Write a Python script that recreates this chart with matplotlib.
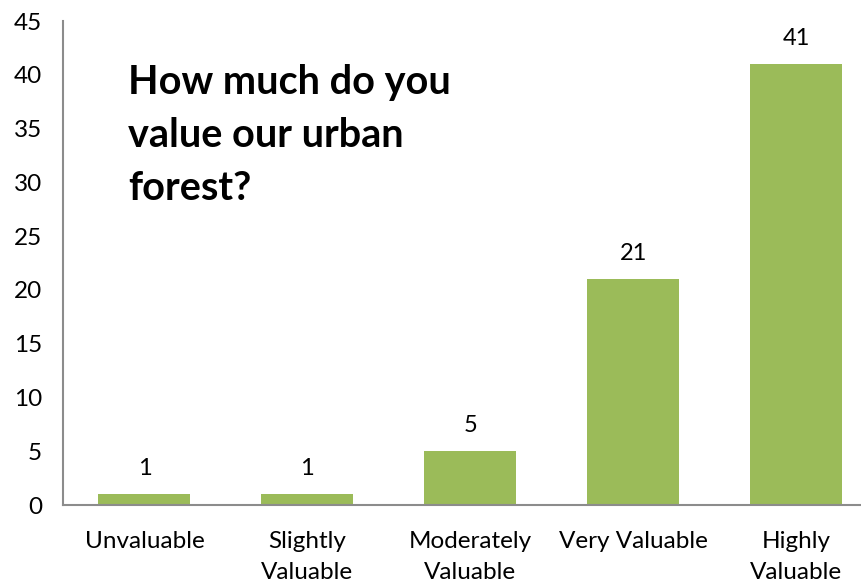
import matplotlib
matplotlib.use("Agg")
import matplotlib.pyplot as plt

categories = ["Unvaluable", "Slightly\nValuable", "Moderately\nValuable",
              "Very Valuable", "Highly\nValuable"]
counts = [1, 1, 5, 21, 41]
yticks = [0, 5, 10, 15, 20, 25, 30, 35, 40, 45]
title = "How much do you\nvalue our urban\nforest?"

plt.rcParams['font.family'] = ['Lato', 'DejaVu Sans']

fig = plt.figure(figsize=(8.61, 5.82), dpi=100)
ax = fig.add_axes([63/861, (582-505)/582, (877.5-63)/861, (505-21)/582])

x = list(range(len(categories)))
ax.bar(x, counts, width=0.565, color="#9bbb59", zorder=2)

for xi, v in zip(x, counts):
    ax.text(xi, v + 2.4, str(v), ha="center", va="center", fontsize=17, color="black")

ax.set_xlim(-0.5, 4.5)
ax.set_ylim(0, 45)
ax.set_yticks(yticks)
ax.set_xticks(x)
ax.set_xticklabels(categories, fontsize=17.5, linespacing=1.6, va="top")
ax.tick_params(axis="both", length=0, labelsize=17.5)
ax.tick_params(axis="x", pad=18.5)
ax.tick_params(axis="y", pad=15)

for side in ["top", "right"]:
    ax.spines[side].set_visible(False)
for side in ["left", "bottom"]:
    ax.spines[side].set_color("#8c8c8c")
    ax.spines[side].set_linewidth(1.5)

fig.text(128/861, 1 - 64/582, title, fontsize=28.5, fontweight="bold",
         ha="left", va="top", linespacing=1.53)

fig.savefig("out.png", dpi=100)
